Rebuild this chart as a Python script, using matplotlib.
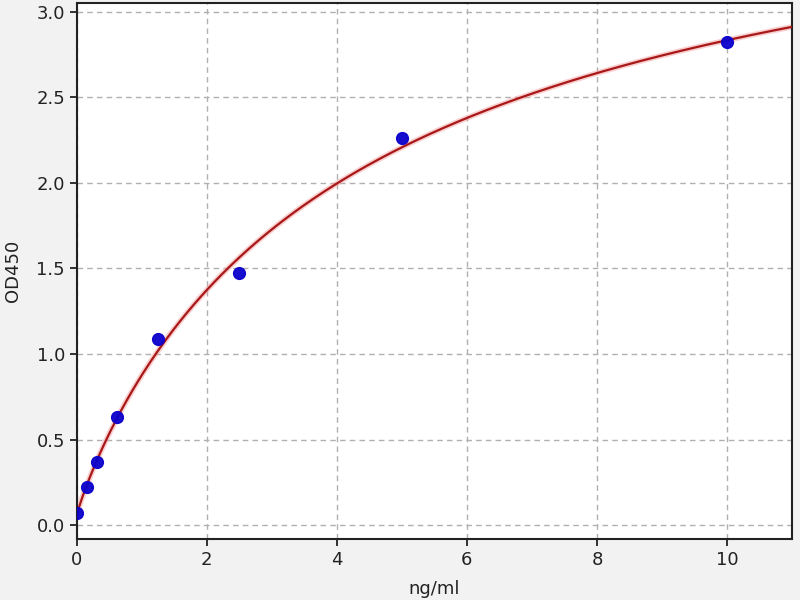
import numpy as np
import matplotlib
matplotlib.use("Agg")
import matplotlib.pyplot as plt

# Standard concentrations (ng/ml) and measured OD450
conc = [0.0, 0.156, 0.3125, 0.625, 1.25, 2.5, 5.0, 10.0]
od450 = [0.07, 0.22, 0.37, 0.63, 1.09, 1.47, 2.26, 2.82]
xticks = [0, 2, 4, 6, 8, 10]
yticks = [0.0, 0.5, 1.0, 1.5, 2.0, 2.5, 3.0]


def four_pl(x, a, b, c, d):
    x = np.asarray(x, dtype=float)
    return d + (a - d) / (1.0 + np.power(np.clip(x, 0, None) / c, b))


def fit_4pl(x, y):
    x = np.asarray(x, float)
    y = np.asarray(y, float)
    p = np.array([y.min(), 1.0, np.log(3.0), y.max() * 1.3])

    def f(p):
        return four_pl(x, p[0], p[1], np.exp(p[2]), p[3])

    lam = 1e-2
    for _ in range(500):
        r = y - f(p)
        J = np.zeros((len(x), 4))
        for i in range(4):
            dp = np.zeros(4)
            dp[i] = 1e-6
            J[:, i] = (f(p + dp) - f(p - dp)) / 2e-6
        A = J.T @ J
        g = J.T @ r
        step = np.linalg.solve(A + lam * np.diag(np.diag(A) + 1e-9), g)
        pn = p + step
        if np.sum((y - f(pn)) ** 2) < np.sum(r ** 2):
            p = pn
            lam *= 0.5
        else:
            lam *= 4
    return p[0], p[1], np.exp(p[2]), p[3]


a, b, c, d = fit_4pl(conc, od450)
xs = np.linspace(0, 11, 400)
ys = four_pl(xs, a, b, c, d)

fig = plt.figure(figsize=(8, 6), dpi=100, facecolor="#f2f2f2")
ax = fig.add_axes([0.096, 0.102, 0.894, 0.893])
ax.set_facecolor("white")

ax.plot(xs, ys, color="#f4a0a0", lw=4, alpha=0.5, zorder=2)
ax.plot(xs, ys, color="#a81818", lw=1.6, zorder=3)
ax.plot(conc, od450, "o", color="#0a00cc", markersize=8.5, zorder=4, alpha=0.95)

ax.set_xlim(0, 11)
ax.set_ylim(-0.08, 3.05)
ax.set_xticks(xticks)
ax.set_yticks(yticks)
ax.set_yticklabels([f"{v:.1f}" for v in yticks])
ax.grid(True, linestyle=(0, (4, 3)), color="#b0b0b0", lw=1)
ax.set_axisbelow(True)

for s in ax.spines.values():
    s.set_linewidth(1.5)
    s.set_color("#222222")
ax.tick_params(labelsize=13, length=5, width=1.3, colors="#222222")
ax.set_xlabel("ng/ml", fontsize=13, color="#222222", labelpad=8)
ax.set_ylabel("OD450", fontsize=13, color="#222222", labelpad=10)

fig.savefig("out.png", dpi=100, facecolor=fig.get_facecolor())
